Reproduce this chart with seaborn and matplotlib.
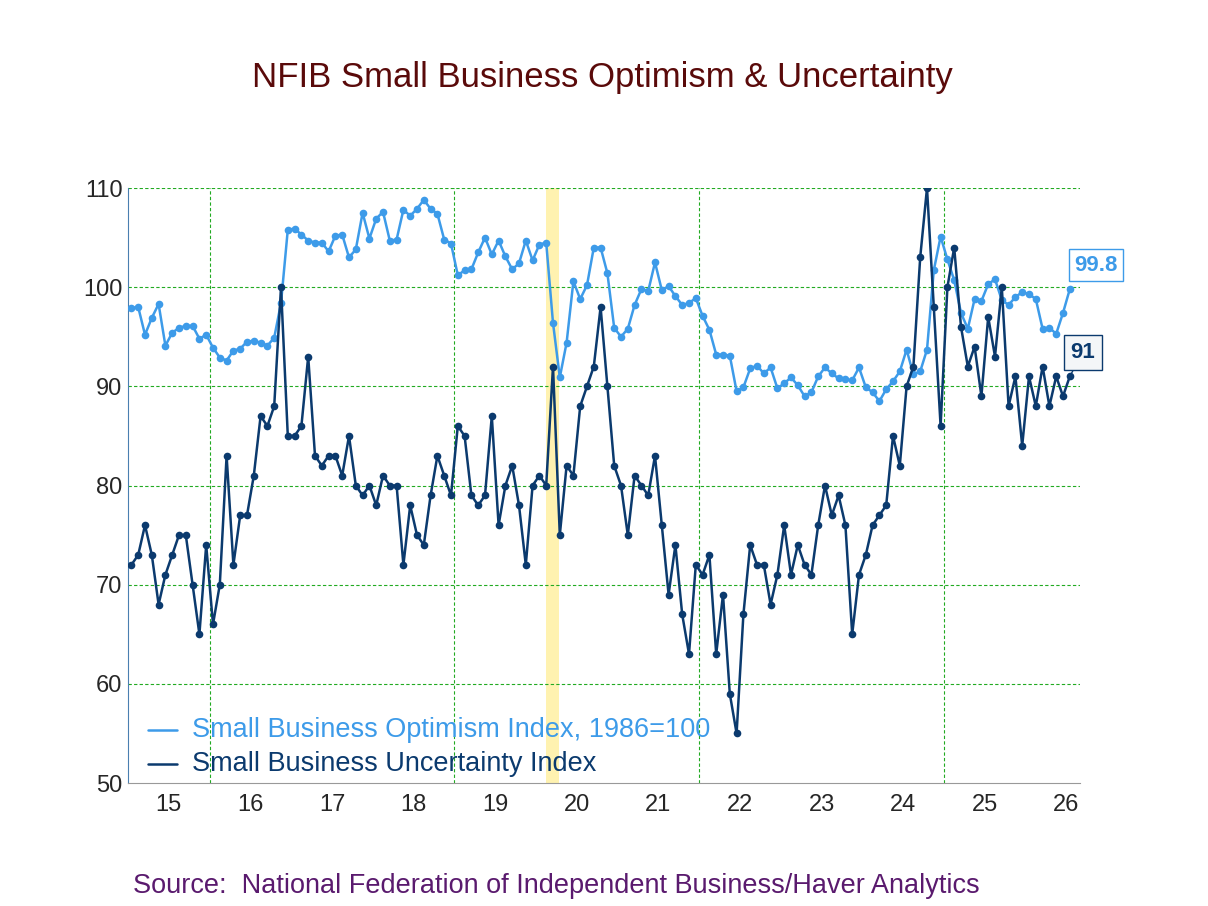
import numpy as np
import pandas as pd
import matplotlib
matplotlib.use("Agg")
import matplotlib.pyplot as plt
import seaborn as sns

start_year = 2015
optimism = [
    97.9, 98.0, 95.2, 96.9, 98.3, 94.1, 95.4, 95.9, 96.1, 96.1, 94.8, 95.2,
    93.9, 92.9, 92.6, 93.6, 93.8, 94.5, 94.6, 94.4, 94.1, 94.9, 98.4, 105.8,
    105.9, 105.3, 104.7, 104.5, 104.5, 103.6, 105.2, 105.3, 103.0, 103.8, 107.5, 104.9,
    106.9, 107.6, 104.7, 104.8, 107.8, 107.2, 107.9, 108.8, 107.9, 107.4, 104.8, 104.4,
    101.2, 101.7, 101.8, 103.5, 105.0, 103.3, 104.7, 103.1, 101.8, 102.4, 104.7, 102.7,
    104.3, 104.5, 96.4, 90.9, 94.4, 100.6, 98.8, 100.2, 104.0, 104.0, 101.4, 95.9,
    95.0, 95.8, 98.2, 99.8, 99.6, 102.5, 99.7, 100.1, 99.1, 98.2, 98.4, 98.9,
    97.1, 95.7, 93.2, 93.2, 93.1, 89.5, 89.9, 91.8, 92.1, 91.3, 91.9, 89.8,
    90.3, 90.9, 90.1, 89.0, 89.4, 91.0, 91.9, 91.3, 90.8, 90.7, 90.6, 91.9,
    89.9, 89.4, 88.5, 89.7, 90.5, 91.5, 93.7, 91.2, 91.5, 93.7, 101.7, 105.1,
    102.8, 100.7, 97.4, 95.8, 98.8, 98.6, 100.3, 100.8, 98.7, 98.2, 99.0, 99.5,
    99.3, 98.8, 95.8, 95.9, 95.3, 97.4, 99.8,
]
uncertainty = [
    72, 73, 76, 73, 68, 71, 73, 75, 75, 70, 65, 74,
    66, 70, 83, 72, 77, 77, 81, 87, 86, 88, 100, 85,
    85, 86, 93, 83, 82, 83, 83, 81, 85, 80, 79, 80,
    78, 81, 80, 80, 72, 78, 75, 74, 79, 83, 81, 79,
    86, 85, 79, 78, 79, 87, 76, 80, 82, 78, 72, 80,
    81, 80, 92, 75, 82, 81, 88, 90, 92, 98, 90, 82,
    80, 75, 81, 80, 79, 83, 76, 69, 74, 67, 63, 72,
    71, 73, 63, 69, 59, 55, 67, 74, 72, 72, 68, 71,
    76, 71, 74, 72, 71, 76, 80, 77, 79, 76, 65, 71,
    73, 76, 77, 78, 85, 82, 90, 92, 103, 110, 98, 86,
    100, 104, 96, 92, 94, 89, 97, 93, 100, 88, 91, 84,
    91, 88, 92, 88, 91, 89, 91,
]
year_labels = ["15", "16", "17", "18", "19", "20", "21", "22", "23", "24", "25", "26"]
name_opt = "Small Business Optimism Index, 1986=100"
name_unc = "Small Business Uncertainty Index"
title = "NFIB Small Business Optimism & Uncertainty"
source = "Source:  National Federation of Independent Business/Haver Analytics"

c_opt = "#3d9be9"
c_unc = "#0b3a6e"

n = len(optimism)
t = start_year + (np.arange(n) + 0.5) / 12.0
df = pd.DataFrame({
    "t": np.concatenate([t, t]),
    "value": optimism + uncertainty,
    "series": [name_opt] * n + [name_unc] * n,
})

sns.set_style("white")
plt.rcParams["font.family"] = ["Liberation Sans", "DejaVu Sans"]
fig = plt.figure(figsize=(12.08, 9.06), dpi=100)
ax = fig.add_axes([128 / 1208, 1 - 783 / 906, 952 / 1208, 595 / 906])

ax.axvspan(2020.12, 2020.28, color="#fff2b0", zorder=0, lw=0)
sns.lineplot(data=df, x="t", y="value", hue="series", palette=[c_opt, c_unc],
             marker="o", markersize=5.5, markeredgewidth=0, linewidth=1.8,
             ax=ax, legend=False, zorder=3)

xmax = 2015 + 952 / 81.6
ax.set_xlim(2015, xmax)
ax.set_ylim(50, 110)
ax.set_yticks(range(50, 111, 10))
ax.set_xticks([2015.5 + i for i in range(len(year_labels))])
ax.set_xticklabels(year_labels)
ax.set_xticks(range(2016, 2027), minor=True)
ax.tick_params(axis="x", which="major", length=0, labelsize=17, pad=8)
ax.tick_params(axis="x", which="minor", length=8, direction="in", color="#999999")
ax.tick_params(axis="y", length=0, labelsize=17, pad=4)
for y in range(60, 111, 10):
    ax.axhline(y, color="#22aa22", ls=(0, (3, 2)), lw=0.8, zorder=1)
for x in [2016, 2019, 2022, 2025]:
    ax.axvline(x, color="#22aa22", ls=(0, (3, 2)), lw=0.8, zorder=1)
for s in ["top", "right"]:
    ax.spines[s].set_visible(False)
ax.spines["left"].set_color("#4a7fb0")
ax.spines["bottom"].set_color("#999999")
ax.set_xlabel("")
ax.set_ylabel("")

# legend
ax.plot([2015.25, 2015.6], [55.3, 55.3], color=c_opt, lw=1.8)
ax.text(2015.78, 55.3, name_opt, color=c_opt, fontsize=19.5, va="center")
ax.plot([2015.25, 2015.6], [51.9, 51.9], color=c_unc, lw=1.8)
ax.text(2015.78, 51.9, name_unc, color=c_unc, fontsize=19.5, va="center")

# end labels
ax.annotate(f"{optimism[-1]:.1f}", xy=(t[-1], optimism[-1]), xytext=(2026.86, 102.2),
            color=c_opt, fontsize=16, fontweight="bold", va="center", ha="center",
            bbox=dict(boxstyle="square,pad=0.25", fc="white", ec=c_opt, lw=1),
            annotation_clip=False)
ax.annotate(f"{uncertainty[-1]}", xy=(t[-1], uncertainty[-1]), xytext=(2026.7, 93.4),
            color=c_unc, fontsize=16, fontweight="bold", va="center", ha="center",
            bbox=dict(boxstyle="square,pad=0.3", fc="#f4f6f8", ec=c_unc, lw=1),
            arrowprops=dict(arrowstyle="-", color=c_unc, lw=1, shrinkA=0, shrinkB=0),
            annotation_clip=False)

fig.text(602 / 1208, 1 - 78 / 906, title, color="#5a0a0a", fontsize=25, ha="center", va="center")
fig.text(133 / 1208, 1 - 886 / 906, source, color="#5a1a6e", fontsize=19.5, ha="left", va="center")

fig.savefig("out.png", dpi=100, facecolor="white")
